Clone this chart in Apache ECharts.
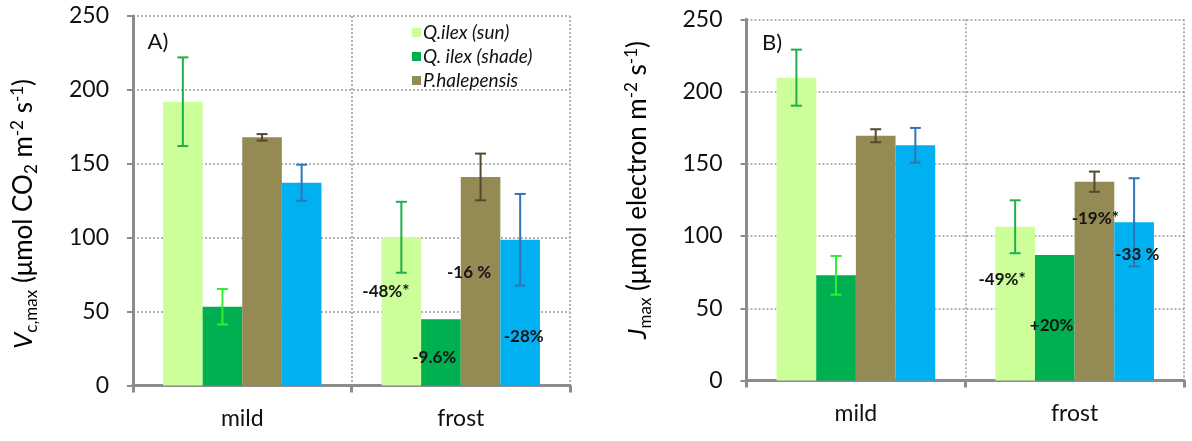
<!DOCTYPE html>
<html><head><meta charset="utf-8">
<script src="https://cdn.jsdelivr.net/npm/echarts@6/dist/echarts.min.js"></script>
<style>html,body{margin:0;padding:0;background:#fff}#c{width:1192px;height:441px}</style>
</head><body><div id="c"></div>
<script>
// ---------- data ----------
const categories = ['mild', 'frost'];
const seriesNames = ['Q.ilex (sun)', 'Q. ilex (shade)', 'P.halepensis', 'P. sylvestris'];
const legendNames = ['Q.ilex (sun)', 'Q. ilex (shade)', 'P.halepensis'];
const yTicks = [0, 50, 100, 150, 200, 250];

// Panel A: Vcmax
const vcSun = [192.0, 100.3];
const vcShade = [53.3, 44.8];
const vcPine = [167.9, 141.1];
const vcBlue = [137.2, 98.6];
const vcSunErr = [30, 24];
const vcShadeErr = [12, null];
const vcPineErr = [2.2, 15.8];
const vcBlueErr = [12.2, 31];

// Panel B: Jmax
const jSun = [209.6, 106.4];
const jShade = [72.8, 86.9];
const jPine = [169.4, 137.6];
const jBlue = [162.8, 109.5];
const jSunErr = [19.4, 18.3];
const jShadeErr = [13.4, null];
const jPineErr = [4.5, 7];
const jBlueErr = [12, 30.5];

// annotations (frost group): text, y value, position in bar slots
const annoTextA = ['-48%*', '-9.6%', '-16 %', '-28%'];
const annoYA = [63.5, 19.1, 76.6, 33.0];
const annoSlotA = [-0.39, 0.83, 1.71, 3.09];
const annoTextB = ['-49%*', '+20%', '-19%*', '-33 %'];
const annoYB = [69.6, 38.4, 111.8, 87.3];
const annoSlotB = [-0.33, 0.92, 2.02, 3.08];

// ---------- style ----------
const barColors = ['#ccff99', '#00b050', '#948a54', '#00b0f0'];
const errColors = ['#1fae4a', '#33ee33', '#54482e', '#2e75b6'];
const FONT = 'Lato, "Open Sans", sans-serif';
const GAP = 0.275;

const chart = echarts.init(document.getElementById('c'), null, {renderer: 'canvas'});

function axes(gi) {
  return {
    x: {
      type: 'category', gridIndex: gi, data: categories,
      axisLine: {lineStyle: {color: '#8c8c8c', width: 3}},
      axisTick: {show: true, alignWithLabel: false, length: 7, lineStyle: {color: '#8c8c8c', width: 3}},
      axisLabel: {color: '#111', fontSize: 23, fontFamily: FONT, margin: 22},
      splitLine: {show: true, lineStyle: {color: '#9a9a9a', type: [2, 2], width: 1.5}}
    },
    y: {
      type: 'value', gridIndex: gi, min: 0, max: 250, interval: 50,
      axisLine: {show: true, lineStyle: {color: '#8c8c8c', width: 3}},
      axisTick: {show: true, length: 6, lineStyle: {color: '#8c8c8c', width: 2}},
      axisLabel: {color: '#111', fontSize: 23, fontFamily: FONT, margin: 24,
        formatter: v => yTicks.includes(v) ? String(v) : ''},
      splitLine: {show: true, lineStyle: {color: '#9a9a9a', type: [2, 2], width: 1.5}}
    }
  };
}

function errSeries(gi, vals, errs, slot) {
  const data = [];
  vals.forEach((v, i) => { if (errs[i] != null) data.push([i, v, errs[i], slot]); });
  return {
    type: 'custom', xAxisIndex: gi, yAxisIndex: gi, z: 5, silent: true,
    data: data,
    renderItem: function (params, api) {
      const cat = api.value(0), v = api.value(1), e = api.value(2), s = api.value(3);
      const band = api.size([1, 0])[0];
      const bw = band * (1 - GAP) / 4;
      const cx = api.coord([cat, v])[0] + (s - 1.5) * bw;
      const top = api.coord([cat, v + e])[1];
      const bot = api.coord([cat, v - e])[1];
      const st = {stroke: errColors[s], lineWidth: 2};
      const hw = 5.5;
      return {type: 'group', children: [
        {type: 'line', shape: {x1: cx, y1: top, x2: cx, y2: bot}, style: st},
        {type: 'line', shape: {x1: cx - hw, y1: top, x2: cx + hw, y2: top}, style: st},
        {type: 'line', shape: {x1: cx - hw, y1: bot, x2: cx + hw, y2: bot}, style: st}
      ]};
    }
  };
}

function annoSeries(gi, texts, ys, slots) {
  const data = texts.map((t, i) => [1, ys[i], slots[i]]);
  return {
    type: 'custom', xAxisIndex: gi, yAxisIndex: gi, z: 6, silent: true,
    data: data,
    renderItem: function (params, api) {
      const cat = api.value(0), v = api.value(1), s = api.value(2);
      const band = api.size([1, 0])[0];
      const bw = band * (1 - GAP) / 4;
      const p = api.coord([cat, v]);
      const cx = p[0] + (s - 1.5) * bw;
      return {type: 'text', x: cx, y: p[1], style: {
        text: texts[params.dataIndex], fill: '#141414', font: 'bold 17px ' + FONT,
        textAlign: 'center', textVerticalAlign: 'middle'}};
    }
  };
}

function barSeries(gi, arrs) {
  return arrs.map((arr, k) => ({
    type: 'bar', name: seriesNames[k], xAxisIndex: gi, yAxisIndex: gi,
    data: arr, barGap: '0%', barCategoryGap: (GAP * 100) + '%',
    itemStyle: {color: barColors[k]}, z: 2
  }));
}

const A = axes(0), B = axes(1);

const titleRich = {
  it: {fontSize: 26, fontStyle: 'italic', fontFamily: FONT, color: '#111'},
  n: {fontSize: 26, fontFamily: FONT, color: '#111'},
  sub: {fontSize: 17, fontFamily: FONT, color: '#111', padding: [15, 0, 0, 0]},
  sup: {fontSize: 17, fontFamily: FONT, color: '#111', padding: [0, 0, 13, 0]}
};

const option = {
  animation: false,
  backgroundColor: '#fff',
  grid: [
    {left: 133, top: 16, width: 437, height: 369.5},
    {left: 746.5, top: 19.3, width: 437.5, height: 361.2}
  ],
  xAxis: [A.x, B.x],
  yAxis: [A.y, B.y],
  legend: {
    data: legendNames, orient: 'vertical', left: 407, top: 18,
    itemWidth: 9, itemHeight: 9, itemGap: 5, icon: 'rect',
    textStyle: {fontSize: 19, fontStyle: 'italic', fontFamily: FONT, color: '#111', lineHeight: 19, padding: [0, 0, 0, -3]}
  },
  graphic: [
    {type: 'text', x: 158, y: 42, style: {text: 'A)', font: '22px ' + FONT, fill: '#111', textAlign: 'center', textVerticalAlign: 'middle'}},
    {type: 'text', x: 772, y: 43, style: {text: 'B)', font: '22px ' + FONT, fill: '#111', textAlign: 'center', textVerticalAlign: 'middle'}},
    {type: 'text', x: 24, y: 214, rotation: Math.PI / 2, style: {
      text: '{it|V}{sub|c,max}{n| (μmol CO}{sub|2}{n| m}{sup|-2}{n| s}{sup|-1}{n|)}',
      rich: titleRich, textAlign: 'center', textVerticalAlign: 'middle'}},
    {type: 'text', x: 638, y: 190, rotation: Math.PI / 2, style: {
      text: '{it|J}{sub|max}{n| (μmol electron m}{sup|-2}{n| s}{sup|-1}{n|)}',
      rich: titleRich, textAlign: 'center', textVerticalAlign: 'middle'}}
  ],
  series: [
    ...barSeries(0, [vcSun, vcShade, vcPine, vcBlue]),
    errSeries(0, vcSun, vcSunErr, 0),
    errSeries(0, vcShade, vcShadeErr, 1),
    errSeries(0, vcPine, vcPineErr, 2),
    errSeries(0, vcBlue, vcBlueErr, 3),
    annoSeries(0, annoTextA, annoYA, annoSlotA),
    ...barSeries(1, [jSun, jShade, jPine, jBlue]),
    errSeries(1, jSun, jSunErr, 0),
    errSeries(1, jShade, jShadeErr, 1),
    errSeries(1, jPine, jPineErr, 2),
    errSeries(1, jBlue, jBlueErr, 3),
    annoSeries(1, annoTextB, annoYB, annoSlotB)
  ]
};
chart.setOption(option);
</script></body></html>
